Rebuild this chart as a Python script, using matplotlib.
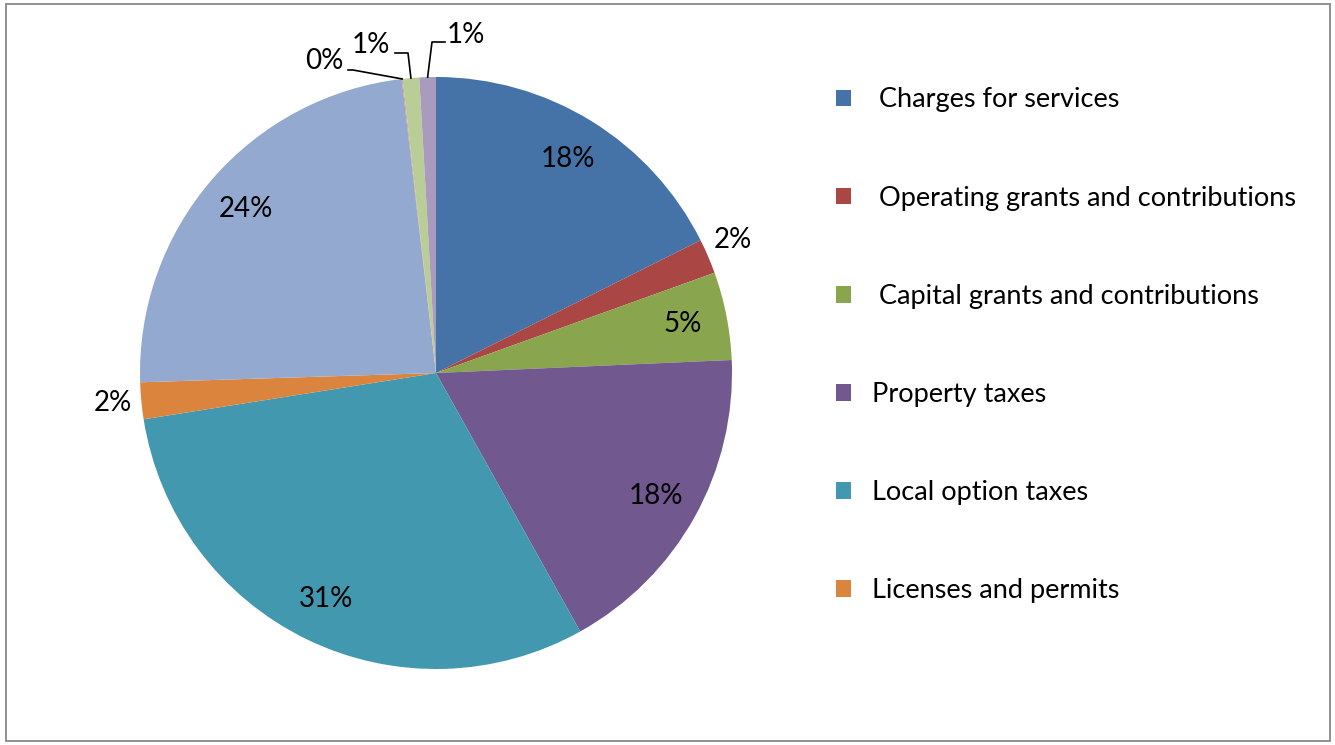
import numpy as np
import matplotlib.pyplot as plt
from matplotlib.patches import Rectangle

# slice data (percent of total), clockwise from 12 o'clock
categories = [" Charges for services", " Operating grants and contributions",
              " Capital grants and contributions", "Property taxes",
              "Local option taxes", "Licenses and permits",
              "Other 1", "Other 2", "Other 3", "Other 4"]
values = [17.6, 1.9, 4.8, 17.6, 30.6, 2.0, 23.65, 0.05, 0.9, 0.9]
colors = ["#4572A7", "#AA4643", "#89A54E", "#71588F", "#4198AF",
          "#DB843D", "#93A9CF", "#D19392", "#B9CD96", "#A99BBD"]

W, H = 1335, 745
CX, CY, R = 436, 373, 296


def px(x, y):
    # pixel position -> data coords of the pie axes
    return (x - CX) / R, (CY - y) / R


plt.rcParams["font.family"] = ["Lato", "DejaVu Sans"]
fig = plt.figure(figsize=(W / 100, H / 100), dpi=100)
ax = fig.add_axes([0, 0, 1, 1])

wedges, texts, autotexts = ax.pie(values, colors=colors, startangle=90,
                                  counterclock=False, autopct="%1.0f%%",
                                  pctdistance=0.85,
                                  wedgeprops=dict(linewidth=0),
                                  textprops=dict(fontsize=20, color="black"))

ax.set_xlim(-CX / R, (W - CX) / R)
ax.set_ylim(-(H - CY) / R, CY / R)
ax.set_aspect("auto")
ax.axis("off")

# small slices: labels outside
autotexts[1].set_position(px(733, 240))
autotexts[5].set_position(px(113, 403))

outside = {7: ((324, 61), [(348, 70), (353, 70)]),
           8: ((371, 45), [(395, 53), (408, 53)]),
           9: ((466, 35), [(445, 42), (432, 42)])}
for i, (tpos, knee) in outside.items():
    autotexts[i].set_position(px(*tpos))
    w = wedges[i]
    mid = np.deg2rad((w.theta1 + w.theta2) / 2)
    pts = [px(*p) for p in knee] + [(np.cos(mid), np.sin(mid))]
    ax.plot([p[0] for p in pts], [p[1] for p in pts], color="black", lw=1.2)

leg = ax.legend(wedges[:6], categories[:6], loc="upper left",
                bbox_to_anchor=(836 / W, 1 - 87.5 / H), frameon=False,
                fontsize=19.5, handlelength=0.57, handleheight=0.57,
                handletextpad=0.76, labelspacing=2.70, borderpad=0,
                borderaxespad=0)

# chart border
fig.patches.append(Rectangle((6 / W, 4 / H), 1324 / W, 737 / H,
                             transform=fig.transFigure, fill=False,
                             edgecolor="#888888", linewidth=1.3))

fig.savefig("out.png", dpi=100)
